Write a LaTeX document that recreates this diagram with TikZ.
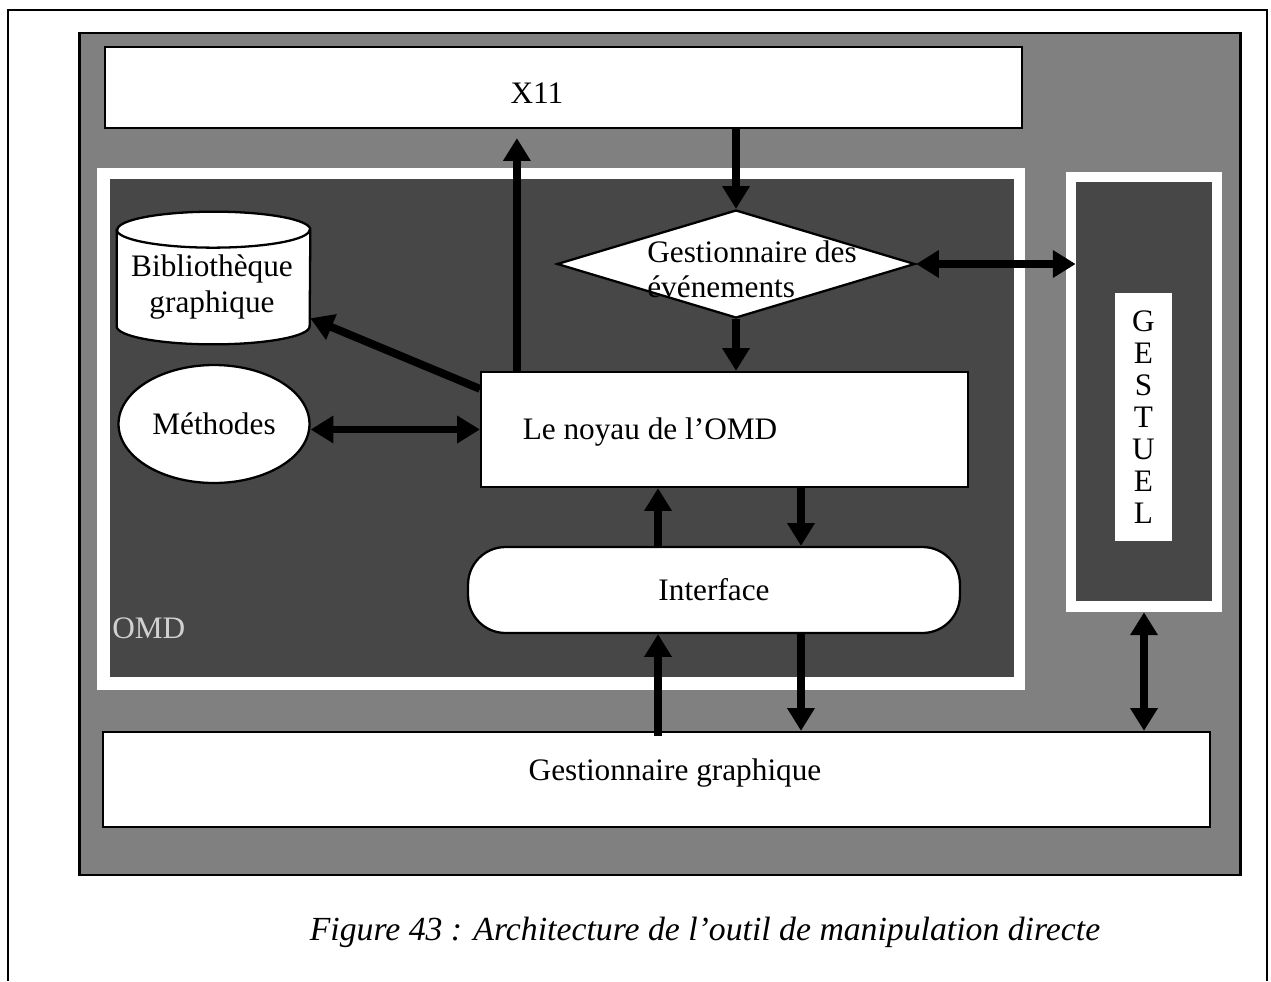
\documentclass[tikz,border=0pt]{standalone}
\usepackage{fontspec}
\setmainfont{Liberation Serif}
\usetikzlibrary{positioning,arrows.meta,shapes.geometric}

\begin{document}
\begin{tikzpicture}[
        x=0.02cm, y=-0.02cm,
        font=\fontsize{17.8}{20}\selectfont,
        panel/.style={draw, line width=1.6pt, fill=black!50, inner sep=0pt},
        zone/.style={fill=black!72, inner sep=0pt},
        rim/.style={fill=white, inner sep=0pt},
        box/.style={draw, line width=1.3pt, fill=white, inner sep=0pt},
        lbl/.style={inner sep=0pt, align=center},
        arr/.style={line width=4.5pt, -{Triangle[width=15pt,length=13pt]}},
        biarr/.style={line width=4.5pt,
                      {Triangle[width=15pt,length=13pt]}-{Triangle[width=15pt,length=13pt]}}
    ]
        \useasboundingbox (0,0) rectangle (1271,981);
        \draw[line width=0.6pt] (8,981) -- (8,10) -- (1267,10) -- (1267,981);

        \node[panel, minimum width=23.24cm, minimum height=16.84cm] (panel) at (660,454) {};
        \node[box, minimum width=18.34cm, minimum height=1.62cm] (x11) at (563.5,87.5) {};
        \node[lbl] (x11lbl) at (537,93) {X11};

        % zone OMD
        \node[rim, minimum width=18.56cm, minimum height=10.44cm] (omdrim) at (561,429) {};
        \node[zone, minimum width=18.08cm, minimum height=9.96cm] (omd) at (562,428) {};
        \node[lbl, anchor=west, text=white!82!black] (omdlbl) at (112,628) {OMD};

        % zone gestuel
        \node[rim, minimum width=3.12cm, minimum height=8.8cm] (gestrim) at (1144,392) {};
        \node[zone, minimum width=2.72cm, minimum height=8.38cm] (gest) at (1144,391.5) {};
        \node[rim, minimum width=1.14cm, minimum height=4.96cm, align=center,
              font=\fontsize{17.8}{18.2}\selectfont] (gestlbl) at (1143.5,417)
              {G\\E\\S\\T\\U\\E\\L};

        % bibliotheque (cylindre)
        \node[inner sep=0pt, minimum width=3.86cm, minimum height=2.64cm] (biblio) at (213.5,278) {};
        \draw[line width=1.3pt, fill=white] ([yshift=-3.6mm]biblio.north west)
            -- ([yshift=3.6mm]biblio.south west)
            arc[start angle=180, end angle=360, x radius=1.93cm, y radius=3.6mm]
            -- ([yshift=-3.6mm]biblio.north east)
            arc[start angle=0, end angle=180, x radius=1.93cm, y radius=3.6mm] -- cycle;
        \draw[line width=1.3pt] ([yshift=-3.6mm]biblio.north west)
            arc[start angle=180, end angle=360, x radius=1.93cm, y radius=3.6mm];
        \node[lbl] (bibliolbl) at (212,287) {Biblioth\`eque\\graphique};

        \node[box, ellipse, minimum width=3.82cm, minimum height=2.36cm] (meth) at (214,424) {M\'ethodes};

        \node[box, diamond, minimum width=7.16cm, minimum height=2.16cm] (evt) at (736,264) {};
        \node[lbl, align=left, anchor=west] (evtlbl) at (647,269) {Gestionnaire des\\\'ev\'enements};

        \node[box, minimum width=9.74cm, minimum height=2.3cm] (noyau) at (724.5,429.5) {};
        \node[lbl] (noyaulbl) at (650,432) {Le noyau de l’OMD};

        \node[box, rounded corners=7.5mm, minimum width=9.84cm, minimum height=1.72cm] (iface) at (714,590) {Interface};

        \node[box, minimum width=22.14cm, minimum height=1.9cm] (gg) at (656.5,779.5) {};
        \node[lbl] (gglbl) at (675,773) {Gestionnaire graphique};

        \node[lbl, font=\fontsize{19.2}{22}\selectfont\itshape] (caption) at (705,932)
            {Figure 43 : Architecture de l’outil de manipulation directe};

        % fleches
        \draw[arr] ([xshift=7.4mm]noyau.north west) coordinate (up) -- ([yshift=-1.8mm]up |- x11.south);
        \draw[arr] (x11.south -| evt.north) -- (evt.north);
        \draw[arr] (evt.south) -- (evt.south |- noyau.north);
        \draw[biarr] (evt.east) -- (evt.east -| gest.west);
        \draw[arr] ([yshift=-3.6mm]noyau.north west) -- (biblio);
        \draw[biarr] (meth.east |- noyau.west) -- (noyau.west);

        \draw[arr] ([xshift=-11.2mm]iface.north) coordinate (iu) -- (iu |- noyau.south);
        \draw[arr] ([xshift=17.4mm]iface.north |- noyau.south) -- ([xshift=17.4mm]iface.north);
        \draw[arr] ([xshift=-11.2mm,yshift=-1mm]iface.south |- gg.north) -- ([xshift=-11.2mm]iface.south);
        \draw[arr] ([xshift=17.4mm]iface.south) coordinate (id) -- (id |- gg.north);
        \draw[biarr] (gestrim.south) -- (gestrim.south |- gg.north);
\end{tikzpicture}
\end{document}
